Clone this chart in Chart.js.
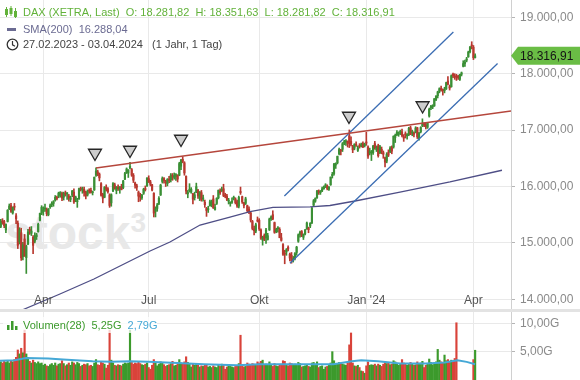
<!DOCTYPE html>
<html><head><meta charset="utf-8">
<script src="https://cdn.jsdelivr.net/npm/chart.js@4.4.1/dist/chart.umd.min.js"></script>
<style>
html,body{margin:0;padding:0;background:#fff;}
body{width:580px;height:380px;position:relative;overflow:hidden;font-family:'Liberation Sans',Arial,sans-serif;}
#wm{position:absolute;left:5px;top:209px;font:bold 48px/48px 'Liberation Sans',Arial,sans-serif;color:#e8e8e8;z-index:0;white-space:nowrap;}
#wm span{font-size:28px;position:relative;top:-17px;}
canvas{position:absolute;left:0;z-index:1}
#c1{top:0}
#c2{top:312px}
#sep{position:absolute;left:0;top:309px;width:580px;height:3px;background:#e3e3e3;z-index:2}
.hd{position:absolute;left:23px;font-size:11px;line-height:13px;white-space:pre;z-index:3}
#volleg{position:absolute;left:3px;top:317px;width:154px;height:16px;background:rgba(255,255,255,0.75);z-index:3;font-size:11px;line-height:16px;white-space:pre}
</style></head>
<body>
<div id="wm">stock<span>3</span></div>
<canvas id="c1" width="580" height="310" style="width:580px;height:310px"></canvas>
<div id="sep"></div>
<canvas id="c2" width="580" height="68" style="width:580px;height:68px"></canvas>

<svg style="position:absolute;left:5px;top:6px;z-index:3" width="12" height="12">
 <g stroke="#62b23a" stroke-width="1" fill="#62b23a">
  <line x1="1.5" y1="1" x2="1.5" y2="11"/><rect x="0.5" y="3.5" width="2" height="5"/>
  <line x1="6" y1="0" x2="6" y2="10"/><rect x="5" y="2.5" width="2" height="5"/>
  <line x1="10.5" y1="2" x2="10.5" y2="12"/><rect x="9.5" y="5.5" width="2" height="5"/>
 </g></svg>
<div class="hd" id="h1" style="top:6px;color:#62b23a"></div>
<div style="position:absolute;left:7px;top:28px;width:9px;height:3px;background:#6b6b92;z-index:3"></div>
<div class="hd" id="h2" style="top:22.5px;color:#6b6b92"></div>
<svg style="position:absolute;left:6px;top:38px;z-index:3" width="13" height="13">
 <circle cx="6.5" cy="6.5" r="5.3" stroke="#333" stroke-width="1.3" fill="none"/>
 <polyline points="6.5,3 6.5,6.8 9,8.3" stroke="#333" stroke-width="1.2" fill="none"/></svg>
<div class="hd" id="h3" style="top:37.5px;color:#444">27.02.2023 - 03.04.2024   (1 Jahr, 1 Tag)</div>
<div id="volleg"><svg style="position:absolute;left:4px;top:4px" width="11" height="9">
 <rect x="0" y="4" width="2.5" height="5" fill="#3c9a2c"/><rect x="4" y="0" width="2.5" height="9" fill="#3c9a2c"/><rect x="8" y="5" width="2.5" height="4" fill="#3c9a2c"/></svg><span id="vl" style="position:absolute;left:20px;top:0"></span></div>

<script>
// ---- tick labels (x axis, trading-day index of first day of quarter) ----
const tickLabels = ['Apr', 'Jul', 'Okt', "Jan '24", 'Apr'];
const tickIdx    = [25, 87, 152, 215, 278];
const priceTicks = [14000, 15000, 16000, 17000, 18000, 19000];
const volTicks   = [5, 10];

// ---- daily OHLC, 27.02.2023 .. 03.04.2024 (trading days) ----
const opens = [
 15290,15390, 15380,15230,15380,15600,15660,15530,15640,15480,15350,15020,15180,14760,15070,14740,14980,15240,15170,15100,15030,15110,15200,15400,15530,
 15560,15600,15590,15500,15640,15680,15700,15760,15810,15830,15850,15880,15810,15880,15870,15830,15770,15850,
 15900,15760,15730,15780,15970,15940,15950,15900,15850,15920,15930,15890,15940,16200,16260,16220,16050,15860,15810,15990,15960,15850,
 15710,15920,16030,15930,15990,15950,16000,15980,16130,16250,16240,16330,16300,16200,16060,16010,15900,15840,15800,15880,15950,16010,
 16140,16080,16030,15880,15560,15610,15700,15850,16090,16140,16080,16050,16130,16120,16190,16160,16180,16200,16200,16360,16480,
 16420,16180,15870,15930,15900,15870,15800,15900,15930,15790,15890,15780,15720,15610,15590,15660,15680,15780,15590,15700,15800,15920,15930,
 15960,15830,15830,15740,15700,15720,15790,15780,15730,15650,15900,15820,15710,15700,15660,15600,15530,15380,15250,15210,15390,
 15400,15230,15050,15130,15090,15060,15230,15430,15500,15360,15200,15250,15240,15090,14970,14810,14840,14920,14800,14780,14700,14720,
 14830,15030,15150,15200,15100,15160,15250,15260,15300,15360,15670,15740,15800,15920,15890,15920,15960,16000,16010,15950,16030,16190,
 16230,16380,16420,16580,16630,16660,16770,16790,16800,16900,16800,16710,16680,16750,16640,16720,16720,16760,16720,
 16790,16700,16600,16590,16600,16760,16650,16720,16600,16660,16600,16510,16450,16600,16620,16690,16700,16870,16920,16930,16960,16970,
 16880,16920,16900,16920,17040,16950,16950,16960,17040,16850,16970,17080,17110,17090,17050,17250,17400,17410,17430,17540,17610,
 17690,17740,17720,17700,17730,17870,17770,17770,17990,17960,17960,17950,17900,17990,18130,18180,18240,18300,18390,18500,
 18470,18281.82
];
const highs = [
 15420,15430, 15400,15340,15590,15690,15700,15640,15700,15520,15390,15270,15260,15010,15150,14960,15240,15280,15290,15130,15180,15170,15350,15530,15660,
 15640,15690,15620,15610,15690,15730,15750,15840,15830,15900,15910,15900,15900,15920,15890,15860,15830,15930,
 15960,15830,15790,15970,15990,15990,15990,15920,15940,15960,15970,15920,16170,16331,16290,16240,16070,15880,16000,16030,15980,15870,
 15870,16070,16060,16000,16030,16000,16040,16110,16250,16330,16300,16427,16320,16230,16080,16040,15920,15880,15860,15970,16010,16160,
 16190,16110,16040,15890,15640,15700,15820,16040,16170,16160,16110,16140,16180,16230,16230,16240,16230,16210,16430,16480,16528,
 16440,16190,15930,16050,15980,15880,15900,16060,15950,15910,15930,15850,15760,15630,15650,15760,15760,15840,15690,15800,15940,15960,15990,
 16040,15880,15860,15790,15730,15800,15830,15800,15760,15830,15990,15830,15720,15810,15670,15640,15560,15400,15300,15350,15460,
 15430,15250,15120,15160,15260,15170,15440,15480,15570,15370,15260,15290,15270,15170,14990,14870,14900,14950,14820,14830,14760,14830,
 14940,15160,15210,15220,15160,15240,15370,15280,15360,15630,15770,15800,15930,15940,15930,15990,16010,16050,16030,16000,16170,16250,
 16410,16420,16540,16680,16660,16780,16820,16830,16810,17003,16880,16730,16760,16790,16720,16760,16770,16790,16770,
 16960,16720,16680,16640,16730,16800,16720,16750,16730,16700,16630,16520,16600,16650,16710,16720,16900,16930,16990,16970,17000,17020,
 16920,16970,16940,17050,17070,17000,16970,17060,17050,16960,17060,17200,17130,17120,17130,17390,17440,17450,17560,17610,17690,
 17750,17780,17730,17760,17850,17950,17800,17980,18010,18000,17990,17970,17990,18030,18230,18240,18290,18400,18480,18567,
 18500,18351.63
];
const lows = [
 15270,15330, 15270,15180,15370,15590,15540,15510,15580,15340,14900,14980,14690,14700,14760,14458,14970,15150,15130,14810,15000,15060,15190,15390,15500,
 15490,15560,15480,15480,15610,15640,15650,15740,15760,15800,15810,15750,15760,15830,15770,15740,15730,15820,
 15700,15730,15630,15770,15920,15880,15830,15780,15830,15880,15880,15850,15930,16180,16190,16100,15830,15710,15800,15920,15880,15630,
 15650,15910,15950,15870,15930,15880,15940,15960,16120,16230,16160,16310,16180,16070,15970,15930,15730,15740,15770,15860,15920,16000,
 16070,16010,15920,15460,15460,15560,15680,15840,16060,16060,16000,16010,16070,16080,16110,16130,16110,16080,16190,16300,16420,
 16200,15870,15800,15900,15880,15690,15760,15890,15790,15750,15740,15740,15630,15470,15540,15650,15640,15610,15580,15680,15780,15860,15910,
 15820,15800,15750,15690,15650,15700,15760,15690,15630,15620,15860,15700,15620,15680,15540,15520,15370,15230,15140,15180,15370,
 15220,15060,14960,15040,14990,15050,15220,15400,15410,15170,15180,15190,15090,15030,14780,14630,14780,14860,14680,14640,14660,14700,
 14780,15010,15100,15110,15060,15140,15240,15180,15270,15340,15660,15720,15790,15860,15860,15910,15950,15980,15940,15930,16020,16150,
 16200,16320,16400,16560,16560,16620,16740,16730,16700,16690,16720,16600,16650,16710,16620,16680,16700,16690,16700,
 16730,16500,16560,16460,16570,16660,16620,16520,16580,16580,16500,16345,16420,16530,16600,16580,16680,16780,16900,16890,16920,16880,
 16800,16860,16840,16900,16920,16900,16880,16950,16850,16820,16950,17060,17060,17020,17030,17230,17360,17380,17420,17520,17570,
 17660,17690,17620,17660,17720,17800,17710,17760,17930,17900,17880,17900,17880,17960,18120,18130,18210,18290,18370,18440,
 18250,18281.82
];
const closes = [
 15381,15365, 15305,15328,15578,15654,15560,15632,15633,15428,14959,15233,14735,14967,14768,14933,15195,15216,15210,14957,15128,15143,15329,15523,15629,
 15581,15603,15520,15598,15655,15703,15729,15808,15789,15883,15896,15795,15882,15863,15872,15796,15800,15922,
 15726,15815,15734,15961,15953,15955,15896,15834,15913,15917,15897,15898,16163,16275,16223,16153,15843,15793,15983,15953,15909,15664,
 15853,16051,15964,15993,15960,15989,15950,16098,16230,16311,16290,16358,16201,16111,16023,15988,15829,15813,15846,15949,15946,16148,
 16081,16038,15938,15529,15603,15673,15790,16024,16141,16105,16068,16125,16109,16204,16178,16191,16211,16131,16406,16469,16447,
 16240,15920,15893,15952,15951,15775,15853,15997,15832,15904,15767,15789,15676,15575,15604,15729,15729,15621,15632,15792,15931,15891,15947,
 15840,15825,15772,15741,15718,15740,15800,15715,15654,15806,15893,15727,15664,15781,15571,15557,15405,15256,15217,15323,15387,
 15247,15085,15099,15070,15229,15128,15424,15461,15425,15187,15238,15252,15094,15045,14798,14800,14879,14892,14731,14687,14716,14810,
 14924,15144,15190,15135,15153,15229,15353,15235,15345,15615,15748,15787,15919,15902,15901,15958,15994,16029,15966,15992,16166,16215,
 16398,16405,16533,16656,16629,16759,16794,16792,16766,16765,16751,16650,16744,16733,16687,16706,16742,16701,16752,
 16769,16538,16617,16594,16716,16688,16690,16547,16705,16622,16572,16431,16567,16555,16683,16627,16890,16907,16961,16942,16972,16904,
 16859,16918,16904,17033,16922,16963,16927,17037,16880,16946,17046,17117,17093,17068,17118,17370,17419,17424,17556,17601,17678,
 17735,17716,17698,17716,17842,17815,17746,17965,17961,17942,17936,17933,17987,18015,18179,18205,18261,18384,18477,18492,
 18283,18316.91
];
// ---- daily volume in G (no bars shown 18.03.-28.03.2024) ----
const volumes = [
 3.2,3.0, 3.3,3.1,3.4,3.0,3.3,3.2,3.6,4.0,5.3,4.6,5.6,4.8,8.8,4.6,4.0,3.3,3.0,3.5,3.1,2.9,3.2,2.9,3.0,
 2.6,2.8,2.5,2.4,2.7,2.9,2.6,3.0,2.5,2.8,2.9,3.4,2.9,2.5,2.7,3.0,2.6,3.2,
 3.0,2.7,3.1,2.9,2.4,2.6,2.8,2.7,2.9,2.5,2.6,2.4,3.0,3.6,2.7,2.6,3.2,3.0,2.8,2.1,2.6,8.8,
 3.5,3.0,2.6,2.5,2.7,2.6,2.5,2.8,3.0,2.9,3.0,8.8,3.1,2.8,3.0,2.9,3.3,2.9,2.7,2.6,2.8,3.0,
 2.2,1.9,2.6,3.6,3.0,2.5,2.8,3.2,3.0,2.7,2.4,2.6,2.7,2.9,3.3,2.5,2.6,2.8,3.6,3.0,2.9,
 3.2,4.1,3.1,2.9,2.3,2.9,2.6,2.9,2.6,2.3,2.5,2.4,2.6,2.7,2.3,2.4,2.2,2.5,2.3,2.2,2.6,2.4,2.8,
 2.6,1.9,2.3,2.5,2.4,2.3,2.2,2.4,2.5,2.9,7.9,2.7,2.3,2.4,3.0,2.8,2.6,2.9,2.8,2.7,3.2,
 3.0,3.3,3.5,2.6,2.8,2.7,3.2,2.6,2.4,2.9,2.5,2.4,2.7,2.8,3.4,3.3,2.7,2.5,3.0,2.9,2.6,2.8,
 2.7,3.1,2.9,2.3,2.4,2.5,2.6,2.4,2.3,3.0,3.1,2.8,3.2,2.2,2.4,2.5,1.9,2.3,2.4,2.6,3.0,5.0,
 3.4,2.8,2.9,3.1,2.9,2.8,2.7,2.6,3.0,6.2,8.3,3.0,2.5,2.4,2.6,2.2,1.6,1.5,1.2,
 2.5,3.2,2.6,2.7,2.6,2.8,2.5,2.8,2.6,2.4,2.8,3.3,2.9,3.1,2.7,2.8,3.4,3.2,2.9,2.6,2.9,3.6,
 3.0,2.9,2.6,2.9,3.1,2.8,2.6,2.7,3.2,2.8,3.0,3.3,2.2,2.6,2.9,3.7,3.1,2.7,3.0,3.2,5.4,
 3.5,3.2,3.0,4.4,3.4,3.6,3.1,3.5,3.3,3.8,10.1,null,null,null,null,null,null,null,null,null,
 3.6,5.25
];
// ---- SMA(200): [trading-day index, value] ----
const smaIdx = [-0.5, 12.5, 34.8, 54.8, 87.8, 99.5, 117.2, 134.8, 146.6, 160.1, 181.9, 193.6, 208.4, 234.8, 264.2, 294.8];
const smaVal = [13640, 13810, 14094, 14360, 14856, 15016, 15317, 15459, 15553, 15631, 15637, 15663, 15743, 15902, 16080, 16288.04];
// ---- Volume MA(28) ----
const vmaIdx = [-0.5, 8.2, 14.8, 27.9, 36.6, 54, 64.9, 75.8, 86.7, 104, 119.4, 139, 152, 173.8, 195.6, 206.5, 212, 221.8, 234.8, 250, 261, 268.6, 274, 279];
const vmaVal = [3.4, 3.5, 3.9, 3.8, 3.6, 3.3, 3.2, 3.3, 3.2, 3.0, 2.8, 2.6, 2.8, 2.8, 2.8, 3.3, 3.5, 3.3, 2.9, 2.9, 3.1, 3.5, 3.2, 2.79];
// ---- drawings: trend lines [idx, price] and markers ----
const redLine   = [[56.0, 16328], [300.1, 17339]];
const upperLine = [[166.8, 15832], [266.2, 18739]];
const lowerLine = [[170.1, 14638], [292.2, 18181]];
const markIdx = [55.4, 76.0, 106.0, 204.8, 248.1];
const markVal = [16594, 16647, 16842, 17250, 17436];

const X_MIN = -0.47, X_MAX = 300.1;
const FONT = "'Liberation Sans', Arial, sans-serif";
Chart.defaults.font.family = FONT;

function fmtDe(v){
  const s = Number(v).toFixed(2).split('.');
  return s[0].replace(/\B(?=(\d{3})+(?!\d))/g, '.') + ',' + s[1];
}
const N = closes.length;
const GREEN = '#3a8f35', RED = '#b8382f';
const isUp = i => closes[i] >= opens[i];

document.getElementById('h1').textContent =
  'DAX (XETRA, Last)  O: ' + fmtDe(opens[N-1]) + '  H: ' + fmtDe(highs[N-1]) + '  L: ' + fmtDe(lows[N-1]) + '  C: ' + fmtDe(closes[N-1]);
document.getElementById('h2').textContent = 'SMA(200)  ' + fmtDe(smaVal[smaVal.length-1]);
document.getElementById('vl').innerHTML =
  '<span style="color:#3c9a2c">Volumen(28)  ' + fmtDe(volumes[N-1]) + 'G</span>  <span style="color:#45a8d6">' + fmtDe(vmaVal[vmaVal.length-1]) + 'G</span>';

const pts = (a) => a.map(p => ({x: p[0], y: p[1]}));
const zip = (xs, ys) => xs.map((x, i) => ({x, y: ys[i]}));

const xLabels = {
  id: 'xlabels',
  afterDraw(chart){
    const {ctx, scales} = chart;
    ctx.save();
    ctx.font = '12px ' + FONT;
    ctx.fillStyle = '#555';
    ctx.textAlign = 'center';
    ctx.textBaseline = 'alphabetic';
    tickIdx.forEach((v, i) => ctx.fillText(tickLabels[i], scales.x.getPixelForValue(v), 303.5));
    ctx.restore();
  }
};
const flag = {
  id: 'flag',
  afterDraw(chart){
    const {ctx, chartArea, scales} = chart;
    const last = closes[N-1];
    const py = scales.y.getPixelForValue(last);
    const x0 = chartArea.right;
    ctx.save();
    ctx.beginPath();
    ctx.moveTo(x0, py); ctx.lineTo(x0 + 7, py - 9); ctx.lineTo(580, py - 9);
    ctx.lineTo(580, py + 9); ctx.lineTo(x0 + 7, py + 9); ctx.closePath();
    ctx.fillStyle = '#6abd45'; ctx.fill();
    ctx.fillStyle = '#151515'; ctx.font = '12px ' + FONT;
    ctx.textAlign = 'left'; ctx.textBaseline = 'middle';
    ctx.fillText(fmtDe(last), x0 + 9, py + 0.5);
    ctx.restore();
  }
};

const xScale = () => ({
  type: 'linear', min: X_MIN, max: X_MAX, offset: false,
  afterBuildTicks: s => { s.ticks = tickIdx.map(v => ({value: v})); },
  afterFit: s => { s.height = 0; s.paddingLeft = 0; s.paddingRight = 0; },
  ticks: {display: false},
  grid: {color: '#e9e9e9', drawTicks: false, offset: false},
  border: {display: false}
});
const yFit = s => { s.width = 69; s.paddingTop = 0; s.paddingBottom = 0; };

new Chart(document.getElementById('c1'), {
  type: 'bar',
  data: {
    datasets: [
      {type: 'line', data: zip(markIdx, markVal), showLine: false, pointStyle: 'triangle', rotation: 180,
       pointRadius: 7.5, pointBackgroundColor: '#cdcdcd', pointBorderColor: '#262626', pointBorderWidth: 1.3, order: 1},
      {type: 'line', data: pts(redLine), borderColor: '#b5463c', borderWidth: 1.3, pointRadius: 0, order: 2},
      {type: 'line', data: pts(upperLine), borderColor: '#3b6db3', borderWidth: 1.3, pointRadius: 0, order: 2},
      {type: 'line', data: pts(lowerLine), borderColor: '#3b6db3', borderWidth: 1.3, pointRadius: 0, order: 2},
      {type: 'line', data: zip(smaIdx, smaVal), borderColor: '#4e4e86', borderWidth: 1.3, pointRadius: 0, order: 3},
      {type: 'bar', data: opens.map((o, i) => ({x: i, y: [o, closes[i]]})), grouped: false, barThickness: 1.5, minBarLength: 1,
       backgroundColor: c => isUp(c.dataIndex) ? GREEN : RED, order: 4},
      {type: 'bar', data: lows.map((l, i) => ({x: i, y: [l, highs[i]]})), grouped: false, barThickness: 1,
       backgroundColor: c => isUp(c.dataIndex) ? GREEN : RED, order: 5}
    ]
  },
  options: {
    responsive: false, animation: false, devicePixelRatio: 1,
    layout: {padding: 0, autoPadding: false},
    plugins: {legend: {display: false}, tooltip: {enabled: false}},
    scales: {
      x: xScale(),
      y: {type: 'linear', position: 'right', min: 13810.3, max: 19306.7,
          afterBuildTicks: s => { s.ticks = priceTicks.map(v => ({value: v})); },
          afterFit: yFit,
          ticks: {color: '#8a8a8a', font: {size: 12}, padding: 5, callback: v => fmtDe(v)},
          grid: {color: '#e9e9e9', tickLength: 4, tickColor: '#b5b5b5'},
          border: {color: '#d0d0d0'}}
    }
  },
  plugins: [xLabels, flag]
});

new Chart(document.getElementById('c2'), {
  type: 'bar',
  data: {
    datasets: [
      {type: 'line', data: zip(vmaIdx, vmaVal), borderColor: '#45a8d6', borderWidth: 2, pointRadius: 0, order: 1},
      {type: 'bar', data: volumes.map((v, i) => ({x: i, y: v})), grouped: false, barThickness: 1.5,
       backgroundColor: c => isUp(c.dataIndex) ? '#3c9a2c' : '#d9433a', order: 2}
    ]
  },
  options: {
    responsive: false, animation: false, devicePixelRatio: 1,
    layout: {padding: 0, autoPadding: false},
    plugins: {legend: {display: false}, tooltip: {enabled: false}},
    scales: {
      x: xScale(),
      y: {type: 'linear', position: 'right', min: 0, max: 12,
          afterBuildTicks: s => { s.ticks = volTicks.map(v => ({value: v})); },
          afterFit: yFit,
          ticks: {color: '#8a8a8a', font: {size: 12}, padding: 5, callback: v => fmtDe(v) + 'G'},
          grid: {color: '#e9e9e9', tickLength: 4, tickColor: '#b5b5b5'},
          border: {color: '#d0d0d0'}}
    }
  }
});
</script>
</body></html>
